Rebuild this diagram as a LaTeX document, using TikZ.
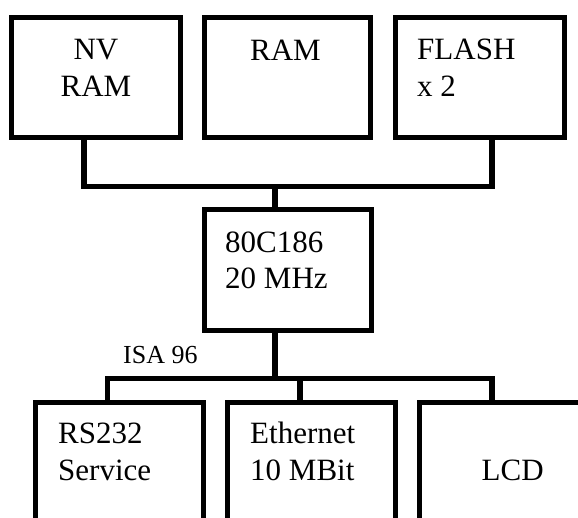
\documentclass[tikz,border=0pt]{standalone}
\usepackage{fontspec}
\setmainfont{Liberation Serif}
\begin{document}
\begin{tikzpicture}[x=1pt,y=-1pt,
  box/.style={draw=black, line width=5pt, fill=white, inner sep=0pt, minimum width=168pt},
  wire/.style={draw=black, line width=5.5pt},
  lbl/.style={inner sep=0pt, font=\fontsize{31}{36.5}\selectfont},
  small/.style={inner sep=0pt, font=\fontsize{26}{30}\selectfont}]
\useasboundingbox (0,0) rectangle (578,518);
\begin{scope}
\clip (0,0) rectangle (578,518);
% top boxes
\node[box, minimum width=168.4pt, minimum height=120pt] (nv)  at (96,77.5) {};
\node[box, minimum width=166.6pt, minimum height=120pt] (ram) at (287.5,77.5) {};
\node[box, minimum width=168.4pt, minimum height=120pt] (fl)  at (480,77.5) {};
% cpu
\node[box, minimum width=167.3pt, minimum height=120.4pt] (cpu) at (287.85,270) {};
% bottom boxes
\node[box, minimum width=167.4pt, minimum height=200pt] (rs)  at (119.5,502.5) {};
\node[box, minimum width=168.3pt, minimum height=200pt] (eth) at (311.65,502.5) {};
\node[box, minimum width=168.3pt, minimum height=200pt] (lcd) at (503.35,502.5) {};
% junctions
\coordinate (j1) at (84,186.3);
\coordinate (j2) at (492,186.3);
\coordinate (j3) at (275,186.3);
\coordinate (k0) at (275,378.5);
\coordinate (k1) at (107.5,378.5);
\coordinate (k2) at (300,378.5);
\coordinate (k3) at (492,378.5);
% connectors
\draw[wire] (nv.south -| j1) -- (j1) -- (j2) -- (fl.south -| j2);
\draw[wire] (j3) -- (cpu.north -| j3);
\draw[wire] (cpu.south -| k0) -- (k0);
\draw[wire] (rs.north -| k1) -- (k1) -- (k3) -- (lcd.north -| k3);
\draw[wire] (k2) -- (eth.north -| k2);
% texts
\node[lbl, anchor=base] (t1) at (96,60) {NV};
\node[lbl, anchor=base] (t2) at (96,96.7) {RAM};
\node[lbl, anchor=base] (t3) at (285.5,61) {RAM};
\node[lbl, anchor=base west] (t4) at (417,60) {FLASH};
\node[lbl, anchor=base west] (t5) at (417,96.7) {x 2};
\node[lbl, anchor=base west] (t6) at (225,252.7) {80C186};
\node[lbl, anchor=base west] (t7) at (225,289) {20 MHz};
\node[small, anchor=base west] (t8) at (123,363.3) {ISA 96};
\node[lbl, anchor=base west] (t9) at (58,443.3) {RS232};
\node[lbl, anchor=base west] (t10) at (58,480) {Service};
\node[lbl, anchor=base west] (t11) at (250,443.3) {Ethernet};
\node[lbl, anchor=base west] (t12) at (250,480) {10 MBit};
\node[lbl, anchor=base west] (t13) at (481.5,480) {LCD};
\end{scope}
\end{tikzpicture}
\end{document}
